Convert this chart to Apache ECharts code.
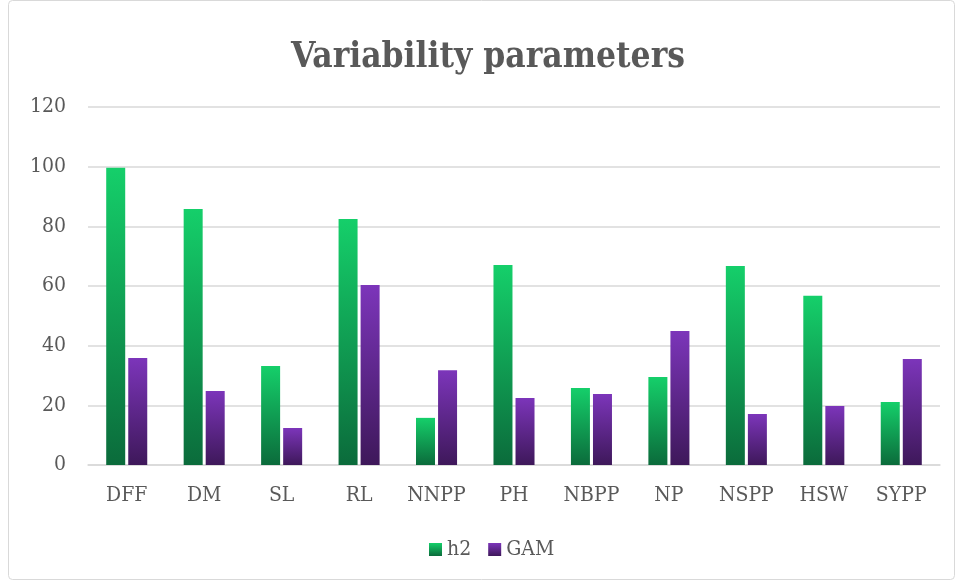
<!DOCTYPE html>
<html><head><meta charset="utf-8">
<script src="https://cdn.jsdelivr.net/npm/echarts@6/dist/echarts.min.js"></script>
<style>html,body{margin:0;padding:0;background:#fff}#c{width:958px;height:581px}</style>
</head><body><div id="c"></div>
<script>
const categories = ['DFF','DM','SL','RL','NNPP','PH','NBPP','NP','NSPP','HSW','SYPP'];
const h2 = [99.6, 85.8, 33.2, 82.5, 15.8, 67.0, 25.8, 29.5, 66.7, 56.7, 21.1];
const gam = [35.9, 24.8, 12.4, 60.3, 31.8, 22.5, 23.8, 44.9, 17.1, 19.8, 35.5];
const yTicks = [0, 20, 40, 60, 80, 100, 120];

const font = '"DejaVu Serif Condensed", "DejaVu Serif", serif';
const chart = echarts.init(document.getElementById('c'));
function grad(top, bottom){
  return new echarts.graphic.LinearGradient(0,0,0,1,[{offset:0,color:top},{offset:1,color:bottom}]);
}
chart.setOption({
  animation:false,
  backgroundColor:'#fff',
  graphic:[{type:'rect',shape:{x:8.5,y:0.5,width:946,height:579,r:4},style:{fill:'none',stroke:'#d9d9d9',lineWidth:1}}],
  title:{text:'Variability parameters',left:286,top:35,padding:5,textStyle:{fontFamily:font,fontSize:35,fontWeight:'bold',color:'#595959'}},
  legend:{bottom:16,left:424,itemWidth:13,itemHeight:13,itemGap:17,icon:'rect',
    textStyle:{fontFamily:font,fontSize:21,color:'#595959'},data:['h2','GAM']},
  grid:{left:88,right:18,top:107,bottom:116},
  xAxis:{type:'category',data:categories,axisTick:{show:false},
    axisLine:{lineStyle:{color:'#d9d9d9',width:1.5}},
    axisLabel:{fontFamily:font,fontSize:21,color:'#595959',margin:20}},
  yAxis:{type:'value',min:0,max:120,interval:20,
    axisLabel:{fontFamily:font,fontSize:21,color:'#595959',margin:22,formatter:v=>yTicks.includes(v)?String(v):''},
    splitLine:{lineStyle:{color:'#d9d9d9',width:1.5}},axisLine:{show:false},axisTick:{show:false}},
  series:[
    {name:'h2',type:'bar',data:h2,barWidth:19,barGap:'16%',itemStyle:{color:grad('#15cf6a','#0b6b3b')}},
    {name:'GAM',type:'bar',data:gam,barWidth:19,barGap:'16%',itemStyle:{color:grad('#7c35ba','#3e185a')}}
  ]
});
</script></body></html>
